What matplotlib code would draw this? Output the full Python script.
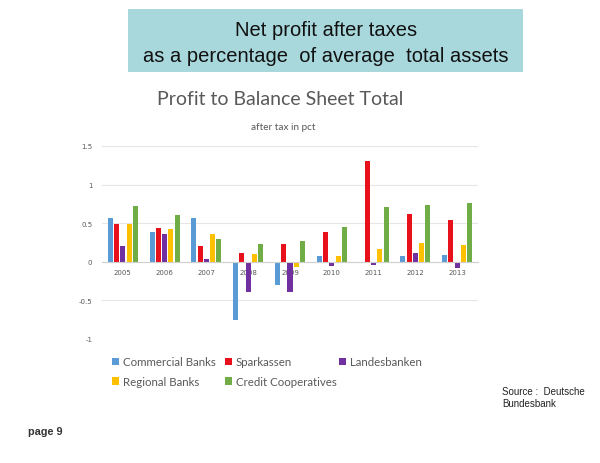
import matplotlib
matplotlib.use("Agg")
import matplotlib.pyplot as plt
from matplotlib.patches import Rectangle
import numpy as np

years = ["2005", "2006", "2007", "2008", "2009", "2010", "2011", "2012", "2013"]
series_names = ["Commercial Banks", "Sparkassen", "Landesbanken", "Regional Banks", "Credit Cooperatives"]
commercial = [0.57, 0.38, 0.57, -0.76, -0.30, 0.08, -0.01, 0.07, 0.09]
sparkassen = [0.49, 0.44, 0.21, 0.11, 0.23, 0.38, 1.30, 0.62, 0.54]
landesbanken = [0.20, 0.36, 0.03, -0.39, -0.39, -0.05, -0.035, 0.11, -0.08]
regional = [0.49, 0.43, 0.36, 0.10, -0.07, 0.07, 0.17, 0.25, 0.22]
cooperatives = [0.72, 0.61, 0.30, 0.23, 0.27, 0.45, 0.71, 0.73, 0.76]
yticks = [-1, -0.5, 0, 0.5, 1, 1.5]
ytick_labels = ["-1", "-0.5", "0", "0.5", "1", "1.5"]

colors = ["#5b9bd5", "#e8101a", "#7030a0", "#ffc000", "#70ad47"]
all_series = [commercial, sparkassen, landesbanken, regional, cooperatives]

fig = plt.figure(figsize=(6.0, 4.64), dpi=100)
fig.patch.set_facecolor("white")

# header box
fig.patches.append(Rectangle((128/600, 1-73/464), (523-128)/600, (73-10)/464,
                             transform=fig.transFigure, facecolor="#a8d8dc",
                             edgecolor="none", zorder=0))
fig.text(326/600, 1-31/464, "Net profit after taxes", ha="center", va="center",
         fontsize=14.5, family="Liberation Sans", color="#111111")
fig.text(326/600, 1-57/464, "as a percentage  of average  total assets", ha="center", va="center",
         fontsize=14.5, family="Liberation Sans", color="#111111")

fig.text(280/600, 1-100/464, "Profit to Balance Sheet Total", ha="center", va="center",
         fontsize=14, family="Lato", color="#595959")
fig.text(283/600, 1-127/464, "after tax in pct", ha="center", va="center",
         fontsize=7.2, family="Lato", color="#595959")

ax = fig.add_axes([102/600, 1-340/464, (478-102)/600, (340-147)/464])
x = np.arange(len(years))
step = 0.15
width = 0.12
handles = []
for i, (vals, name, c) in enumerate(zip(all_series, series_names, colors)):
    h = ax.bar(x + (i - 2) * step, vals, width=width, color=c, label=name, zorder=3)
    handles.append(h)

ax.set_xlim(-0.5, len(years) - 0.5)
ax.set_ylim(-1, 1.5)
ax.set_yticks(yticks)
ax.set_yticklabels(ytick_labels)
ax.set_xticks(x)
ax.set_xticklabels(years)
ax.grid(axis="y", color="#e6e6e6", linewidth=0.8, zorder=0)
for s in ["top", "right", "left"]:
    ax.spines[s].set_visible(False)
ax.spines["bottom"].set_position(("data", 0))
ax.spines["bottom"].set_color("#d0d0d0")
ax.spines["bottom"].set_zorder(4)
ax.tick_params(axis="both", length=0, labelsize=5, labelcolor="#595959")
ax.tick_params(axis="y", pad=7)
ax.tick_params(axis="x", pad=5)
ax.set_facecolor("none")

# legend: three columns, row-major order like the original
columns = [[0, 3], [1, 4], [2]]
col_x = [102, 215, 329]
for idxs, cx in zip(columns, col_x):
    leg = fig.legend([handles[k] for k in idxs], [series_names[k] for k in idxs],
                     loc="upper left", bbox_to_anchor=(cx/600, 1-347/464), ncol=1,
                     frameon=False, handlelength=0.6, handleheight=0.6,
                     handletextpad=0.3, labelspacing=0.75,
                     prop={"family": "Lato", "size": 8.3})
    for t in leg.get_texts():
        t.set_color("#595959")

fig.text(502/600, 1-392/464, "Source :  Deutsche", ha="left", va="center",
         fontsize=7, family="Liberation Sans", color="#222222")
fig.text(502/600, 1-404/464, "Bundesbank", ha="left", va="center",
         fontsize=7, family="Liberation Sans", color="#222222")
fig.text(28/600, 1-432/464, "page 9", ha="left", va="center",
         fontsize=7.8, family="Liberation Sans", weight="bold", color="#333333")

fig.savefig("out.png", dpi=100)
